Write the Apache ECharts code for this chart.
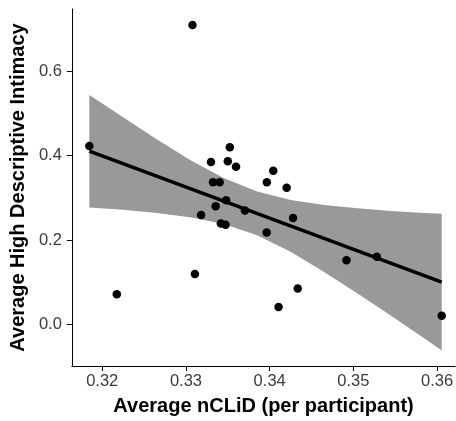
<!DOCTYPE html>
<html>
<head>
<meta charset="utf-8">
<script src="https://cdn.jsdelivr.net/npm/echarts@6/dist/echarts.min.js"></script>
<style>
html,body{margin:0;padding:0;background:#fff;}
#c{width:456px;height:421px;}
</style>
</head>
<body>
<div id="c"></div>
<script>
// Scatter points (x = average nCLiD, y = average high descriptive intimacy)
var pointX = [0.33078, 0.31846, 0.33524, 0.33299, 0.33500, 0.33598, 0.34043, 0.33323, 0.33402,
              0.33966, 0.34203, 0.33480, 0.33355, 0.33704, 0.33181, 0.34279, 0.33417, 0.33473,
              0.33964, 0.32174, 0.33107, 0.34106, 0.34335, 0.34917, 0.35280, 0.36055];
var pointY = [0.710, 0.423, 0.420, 0.385, 0.387, 0.374, 0.364, 0.337, 0.337,
              0.337, 0.324, 0.294, 0.280, 0.270, 0.259, 0.252, 0.239, 0.236,
              0.218, 0.071, 0.119, 0.041, 0.085, 0.152, 0.160, 0.020];
// Fitted regression line (end points)
var fitX = [0.31846, 0.36055];
var fitY = [0.411, 0.100];
// Confidence band
var bandX     = [0.31846, 0.3225, 0.3265, 0.3305, 0.3345, 0.3385, 0.3425, 0.3465, 0.3505, 0.3545, 0.3585, 0.36055];
var bandUpper = [0.544, 0.491, 0.439, 0.390, 0.347, 0.315, 0.295, 0.283, 0.275, 0.269, 0.264, 0.262];
var bandLower = [0.277, 0.272, 0.264, 0.254, 0.238, 0.211, 0.172, 0.124, 0.073, 0.020, -0.034, -0.062];
// Tick labels
var xTicks = [0.32, 0.33, 0.34, 0.35, 0.36];
var yTicks = [0.0, 0.2, 0.4, 0.6];

var chart = echarts.init(document.getElementById('c'), null, {renderer: 'canvas'});
var FONT = "'Liberation Sans', Arial, Helvetica, sans-serif";

var bandData = bandX.map(function (x, i) { return [x, bandLower[i], bandUpper[i]]; });

var option = {
  animation: false,
  backgroundColor: '#ffffff',
  grid: {left: 68, right: 0, top: 9, bottom: 48, containLabel: false},
  xAxis: {
    type: 'value',
    min: 0.31637,
    max: 0.36216,
    name: 'Average nCLiD (per participant)',
    nameLocation: 'middle',
    nameGap: 30,
    nameTextStyle: {fontFamily: FONT, fontSize: 20, fontWeight: 'bold', color: '#000'},
    axisLine: {show: true, onZero: false, lineStyle: {color: '#000', width: 1}},
    axisTick: {show: true, length: 5, lineStyle: {color: '#000', width: 1}, customValues: xTicks},
    axisLabel: {
      customValues: xTicks, margin: 7,
      fontFamily: FONT, fontSize: 16.5, color: '#3a3a3a',
      formatter: function (v) { return v.toFixed(2); }
    },
    splitLine: {show: false}
  },
  yAxis: {
    type: 'value',
    min: -0.099,
    max: 0.748,
    name: 'Average High Descriptive Intimacy',
    nameLocation: 'middle',
    nameGap: 40,
    nameTextStyle: {fontFamily: FONT, fontSize: 20, fontWeight: 'bold', color: '#000'},
    axisLine: {show: true, onZero: false, lineStyle: {color: '#000', width: 1}},
    axisTick: {show: true, length: 5, lineStyle: {color: '#000', width: 1}, customValues: yTicks},
    axisLabel: {
      customValues: yTicks, margin: 10,
      fontFamily: FONT, fontSize: 16.5, color: '#3a3a3a',
      formatter: function (v) { return v.toFixed(1); }
    },
    splitLine: {show: false}
  },
  series: [
    {
      type: 'custom',
      clip: true,
      z: 1,
      data: bandData,
      encode: {x: 0, y: [1, 2]},
      renderItem: function (params, api) {
        if (params.dataIndex !== 0) return null;
        var pts = [];
        for (var i = 0; i < bandData.length; i++) pts.push(api.coord([bandData[i][0], bandData[i][2]]));
        for (var j = bandData.length - 1; j >= 0; j--) pts.push(api.coord([bandData[j][0], bandData[j][1]]));
        return {type: 'polygon', shape: {points: pts, smooth: 0}, style: {fill: '#999999', stroke: null}};
      }
    },
    {
      type: 'scatter',
      z: 3,
      symbol: 'circle',
      symbolSize: 8.5,
      itemStyle: {color: '#000', opacity: 1},
      emphasis: {disabled: true},
      data: pointX.map(function (x, i) { return [x, pointY[i]]; })
    },
    {
      type: 'line',
      z: 4,
      symbol: 'none',
      lineStyle: {color: '#000', width: 3.5},
      data: fitX.map(function (x, i) { return [x, fitY[i]]; })
    }
  ]
};
chart.setOption(option);
</script>
</body>
</html>
